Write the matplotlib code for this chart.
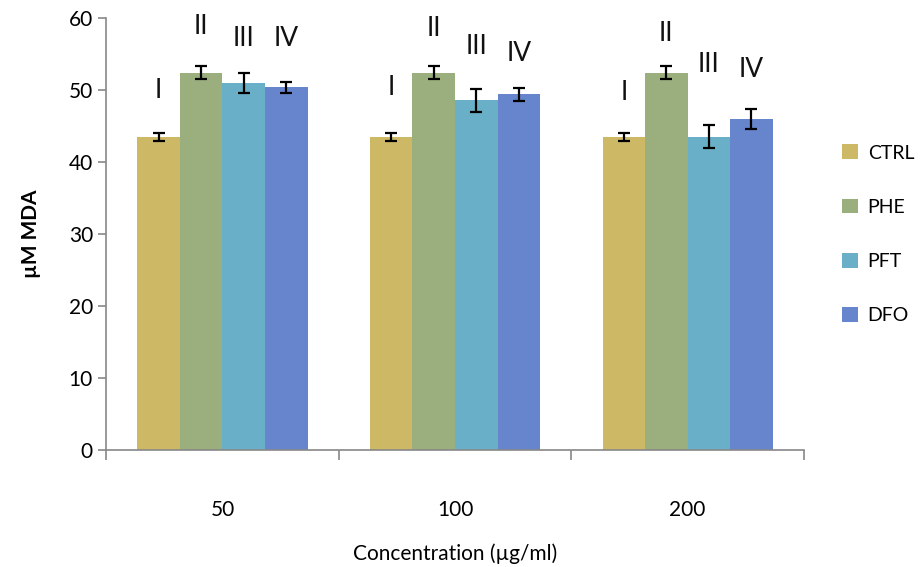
import numpy as np
import matplotlib.pyplot as plt

# data
concentrations = ['50', '100', '200']
series = ['CTRL', 'PHE', 'PFT', 'DFO']
colors = ['#CDB866', '#9BAF7E', '#69AFC7', '#6685CC']

ctrl = [43.5, 43.5, 43.5]
phe = [52.4, 52.4, 52.4]
pft = [51.0, 48.6, 43.5]
dfo = [50.4, 49.4, 46.0]

ctrl_err = [0.6, 0.6, 0.6]
phe_err = [0.9, 0.9, 0.9]
pft_err = [1.4, 1.6, 1.6]
dfo_err = [0.8, 0.9, 1.4]

roman = ['I', 'II', 'III', 'IV']
# heights of the roman numeral labels per group (centre of text)
label_y_50 = [50.0, 58.8, 57.2, 57.2]
label_y_100 = [50.4, 58.6, 56.0, 55.1]
label_y_200 = [49.7, 57.9, 53.5, 52.8]

values = [ctrl, phe, pft, dfo]
errors = [ctrl_err, phe_err, pft_err, dfo_err]
label_y = [label_y_50, label_y_100, label_y_200]

plt.rcParams['font.family'] = ['Lato', 'DejaVu Sans']

fig = plt.figure(figsize=(9.23, 5.67), dpi=100)
ax = fig.add_axes([0.115, 0.206, 0.756, 0.762])

x = np.arange(len(concentrations))
width = 0.183
for i, (name, vals, errs) in enumerate(zip(series, values, errors)):
    pos = x + (i - 1.5) * width
    ax.bar(pos, vals, width, color=colors[i], label=name, linewidth=0)
    ax.errorbar(pos, vals, yerr=errs, fmt='none', ecolor='black',
                elinewidth=1.6, capsize=4, capthick=1.6)

for g in range(len(concentrations)):
    for i in range(4):
        ax.text(x[g] + (i - 1.5) * width, label_y[g][i], roman[i],
                ha='center', va='center', fontsize=19, color='#111111')

ax.set_xlim(-0.5, len(concentrations) - 0.5)
ax.set_ylim(0, 60)
ax.set_yticks(range(0, 61, 10))

ax.set_xticks(x)
ax.set_xticklabels(concentrations, fontsize=15)
ax.set_xticks(np.arange(-0.5, len(concentrations), 1.0), minor=True)
ax.tick_params(axis='x', which='major', length=0, pad=36)
ax.tick_params(axis='x', which='minor', length=7, direction='out', color='#888888', width=1.2)
ax.tick_params(axis='y', length=6, direction='out', color='#888888', width=1.2, labelsize=15)

for s in ['top', 'right']:
    ax.spines[s].set_visible(False)
for s in ['left', 'bottom']:
    ax.spines[s].set_color('#888888')
    ax.spines[s].set_linewidth(1.2)

ax.set_ylabel('µM MDA', fontsize=15, fontweight='bold', labelpad=20)
ax.set_xlabel('Concentration (µg/ml)', fontsize=15, labelpad=17)

ax.legend(loc='center left', bbox_to_anchor=(1.03, 0.5), frameon=False,
          fontsize=14, labelspacing=1.9, handlelength=0.8, handleheight=0.8,
          handletextpad=0.5)

fig.savefig('out.png', dpi=100)
